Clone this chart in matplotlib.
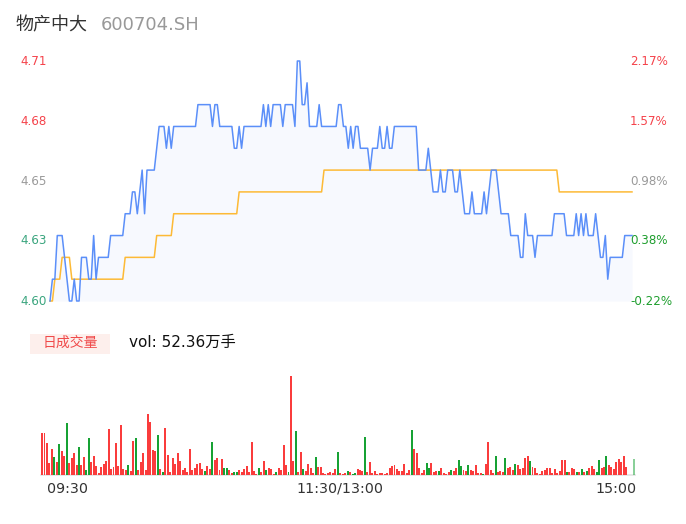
import matplotlib
matplotlib.use("Agg")
import matplotlib.pyplot as plt
import matplotlib.transforms as mtransforms
import numpy as np

plt.rcParams['font.family'] = ['DejaVu Sans', 'Noto Sans CJK SC']

# ---------------- data ----------------
stock_name = "物产中大"
stock_code = "600704.SH"
pre_close = 4.61

price = [
    4.60, 4.61, 4.61, 4.63, 4.63, 4.63, 4.62, 4.61, 4.60, 4.60,
    4.61, 4.60, 4.60, 4.62, 4.62, 4.62, 4.61, 4.61, 4.63, 4.61,
    4.62, 4.62, 4.62, 4.62, 4.62, 4.63, 4.63, 4.63, 4.63, 4.63,
    4.63, 4.64, 4.64, 4.64, 4.65, 4.65, 4.64, 4.65, 4.66, 4.64,
    4.66, 4.66, 4.66, 4.66, 4.67, 4.68, 4.68, 4.68, 4.67, 4.68,
    4.67, 4.68, 4.68, 4.68, 4.68, 4.68, 4.68, 4.68, 4.68, 4.68,
    4.68, 4.69, 4.69, 4.69, 4.69, 4.69, 4.69, 4.68, 4.69, 4.69,
    4.68, 4.68, 4.68, 4.68, 4.68, 4.68, 4.67, 4.67, 4.68, 4.67,
    4.68, 4.68, 4.68, 4.68, 4.68, 4.68, 4.68, 4.68, 4.69, 4.68,
    4.69, 4.68, 4.69, 4.69, 4.69, 4.69, 4.68, 4.69, 4.69, 4.69,
    4.69, 4.68, 4.71, 4.71, 4.69, 4.69, 4.70, 4.68, 4.68, 4.68,
    4.68, 4.69, 4.68, 4.68, 4.68, 4.68, 4.68, 4.68, 4.68, 4.69,
    4.69, 4.68, 4.68, 4.67, 4.68, 4.67, 4.68, 4.68, 4.67, 4.67,
    4.67, 4.67, 4.66, 4.67, 4.67, 4.67, 4.68, 4.67, 4.67, 4.68,
    4.67, 4.67, 4.68, 4.68, 4.68, 4.68, 4.68, 4.68, 4.68, 4.68,
    4.68, 4.68, 4.66, 4.66, 4.66, 4.66, 4.67, 4.66, 4.65, 4.65,
    4.65, 4.66, 4.65, 4.65, 4.66, 4.66, 4.66, 4.65, 4.65, 4.66,
    4.65, 4.64, 4.64, 4.64, 4.65, 4.64, 4.64, 4.64, 4.64, 4.65,
    4.64, 4.65, 4.66, 4.66, 4.66, 4.65, 4.64, 4.64, 4.64, 4.64,
    4.63, 4.63, 4.63, 4.63, 4.62, 4.62, 4.64, 4.63, 4.63, 4.63,
    4.62, 4.63, 4.63, 4.63, 4.63, 4.63, 4.63, 4.63, 4.64, 4.64,
    4.64, 4.64, 4.64, 4.63, 4.63, 4.63, 4.63, 4.64, 4.63, 4.64,
    4.63, 4.64, 4.63, 4.63, 4.63, 4.64, 4.63, 4.62, 4.62, 4.63,
    4.61, 4.62, 4.62, 4.62, 4.62, 4.62, 4.62, 4.63, 4.63, 4.63,
    4.63,
]

avg_price = (
    [4.60] * 2 + [4.61] * 3 + [4.62] * 4 + [4.61] * 22 + [4.62] * 13 +
    [4.63] * 7 + [4.64] * 27 + [4.65] * 35 + [4.66] * 97 + [4.65] * 31
)

volume = [
    125, 125, 95, 35, 77, 55, 40, 93, 72, 57,
    157, 37, 52, 67, 30, 85, 30, 54, 16, 111,
    40, 58, 28, 7, 25, 33, 42, 138, 18, 24,
    95, 27, 150, 18, 15, 30, 12, 102, 110, 15,
    39, 65, 15, 183, 159, 75, 73, 120, 18, 10,
    141, 60, 8, 52, 33, 67, 43, 16, 20, 8,
    77, 15, 20, 32, 35, 17, 13, 27, 18, 98,
    45, 50, 15, 47, 22, 22, 15, 5, 8, 8,
    15, 10, 17, 27, 8, 100, 12, 3, 21, 8,
    41, 15, 22, 18, 3, 8, 21, 16, 89, 30,
    10, 297, 41, 132, 10, 68, 19, 13, 33, 22,
    7, 54, 24, 23, 7, 4, 7, 9, 5, 17,
    68, 5, 4, 5, 12, 10, 3, 7, 17, 15,
    12, 113, 8, 40, 7, 13, 4, 7, 5, 3,
    7, 20, 27, 30, 18, 12, 12, 32, 7, 15,
    135, 78, 66, 22, 5, 15, 37, 22, 37, 9,
    12, 13, 22, 5, 3, 10, 15, 13, 22, 45,
    28, 16, 13, 29, 15, 13, 29, 6, 6, 3,
    33, 100, 15, 7, 57, 8, 13, 10, 50, 20,
    24, 15, 33, 29, 18, 21, 50, 57, 42, 23,
    20, 6, 3, 11, 15, 20, 20, 7, 17, 6,
    12, 44, 46, 10, 10, 22, 17, 8, 8, 17,
    8, 12, 22, 26, 17, 8, 46, 22, 25, 58,
    31, 24, 17, 40, 47, 39, 58, 23, 0, 0,
    47,
]

# 1 = up (red), 0 = down (green)
vol_up = [
    1, 1, 1, 1, 1, 0, 1, 0, 1, 1,
    0, 1, 1, 1, 1, 0, 1, 1, 0, 0,
    1, 1, 1, 1, 1, 1, 1, 1, 1, 1,
    1, 1, 1, 1, 1, 0, 1, 1, 0, 1,
    1, 1, 1, 1, 1, 1, 1, 0, 1, 0,
    1, 1, 1, 1, 1, 1, 1, 1, 1, 1,
    1, 1, 1, 1, 1, 1, 0, 1, 1, 0,
    1, 1, 1, 1, 0, 0, 1, 1, 0, 0,
    1, 1, 1, 1, 1, 1, 1, 1, 0, 1,
    1, 0, 1, 1, 1, 0, 1, 1, 1, 1,
    0, 1, 1, 0, 1, 1, 0, 1, 1, 1,
    1, 0, 1, 1, 1, 1, 1, 1, 1, 1,
    0, 1, 1, 1, 0, 1, 0, 0, 1, 1,
    1, 0, 1, 1, 1, 1, 1, 1, 1, 1,
    1, 1, 1, 1, 1, 1, 1, 1, 1, 1,
    0, 1, 1, 1, 1, 1, 0, 0, 1, 1,
    1, 0, 1, 1, 1, 1, 0, 1, 1, 0,
    0, 1, 1, 0, 1, 1, 1, 1, 1, 0,
    1, 1, 1, 1, 0, 1, 1, 1, 0, 1,
    1, 1, 0, 1, 1, 1, 1, 1, 0, 1,
    1, 1, 1, 1, 1, 1, 1, 1, 1, 1,
    1, 1, 1, 0, 1, 1, 1, 0, 1, 0,
    1, 0, 1, 1, 1, 0, 0, 1, 1, 0,
    1, 1, 1, 1, 1, 1, 1, 1, 1, 1,
    0,
]

left_labels = ["4.71", "4.68", "4.65", "4.63", "4.60"]
right_labels = ["2.17%", "1.57%", "0.98%", "0.38%", "-0.22%"]
tick_values = [4.71, 4.6825, 4.655, 4.6275, 4.60]
time_labels = ["09:30", "11:30/13:00", "15:00"]
vol_text = "vol: 52.36万手"
vol_title = "日成交量"

# ---------------- style ----------------
W, H = 686, 524
RED = "#F5434B"
GREEN_L = "#3AA57E"
GREEN_R = "#1E9E2E"
GRAY = "#9A9A9A"
BLUE = "#5B8FF9"
ORANGE = "#FDBA36"
BAR_RED = "#FA3C3C"
BAR_GREEN = "#17A234"

fig = plt.figure(figsize=(W / 100, H / 100), dpi=100)
fig.patch.set_facecolor("white")

def px_axes(x0, y0, x1, y1):
    return fig.add_axes([x0 / W, 1 - y1 / H, (x1 - x0) / W, (y1 - y0) / H])

# price axes
ax = px_axes(50, 61, 632, 301)
n = len(price)
x = np.arange(n)
ax.set_xlim(0, n - 1)
ax.set_ylim(4.60, 4.71)
ax.fill_between(x, price, 4.60, color="#F7F9FE", lw=0, zorder=1)
ax.plot(x, avg_price, color=ORANGE, lw=1.1, zorder=2, clip_on=False)
ax.plot(x, price, color=BLUE, lw=1.1, zorder=3, clip_on=False,
        solid_joinstyle="round")
ax.axis("off")

left_colors = [RED, RED, GRAY, GREEN_L, GREEN_L]
right_colors = [RED, RED, GRAY, GREEN_R, GREEN_R]
trans = mtransforms.blended_transform_factory(fig.transFigure, ax.transData)
for v, lt, rt, lc, rc in zip(tick_values, left_labels, right_labels,
                             left_colors, right_colors):
    fig.text(20 / W, v, lt, transform=trans, ha="left", va="center",
             fontsize=8.6, color=lc)
    fig.text(630 / W, v, rt, transform=trans, ha="left", va="center",
             fontsize=8.6, color=rc)

# title
fig.text(15 / W, 1 - 25 / H, stock_name, ha="left", va="center",
         fontsize=13, color="#333333")
fig.text(101 / W, 1 - 25 / H, stock_code, ha="left", va="center",
         fontsize=13, color="#999999")

# volume header
fig.patches.append(plt.Rectangle((30 / W, 1 - 354 / H), 80 / W, 20 / H,
                                 transform=fig.transFigure,
                                 facecolor="#FDEFEC", edgecolor="none"))
fig.text(70 / W, 1 - 343 / H, vol_title, ha="center", va="center",
         fontsize=10, color="#F04B4B")
fig.text(129 / W, 1 - 342 / H, vol_text, ha="left", va="center",
         fontsize=11, color="#111111")

# volume axes
vax = px_axes(40.8, 375, 634.8, 475)
vx = np.arange(len(volume))
colors = [BAR_RED if up else BAR_GREEN for up in vol_up]
bars = vax.bar(vx, volume, width=0.8, color=colors, edgecolor="none",
               zorder=2)
bars[-1].set_alpha(0.5)
vax.set_xlim(-0.5, len(volume) - 0.5)
vax.set_ylim(0, 300)
vax.axis("off")
vax.axhline(0, color="#E3E3E3", lw=1.2, zorder=1, clip_on=False)

# time labels
fig.text(47 / W, 1 - 489 / H, time_labels[0], ha="left", va="center",
         fontsize=10.3, color="#333333")
fig.text(340 / W, 1 - 489 / H, time_labels[1], ha="center", va="center",
         fontsize=10.3, color="#333333")
fig.text(637 / W, 1 - 489 / H, time_labels[2], ha="right", va="center",
         fontsize=10.3, color="#333333")

fig.savefig("out.png", dpi=100, facecolor="white")
